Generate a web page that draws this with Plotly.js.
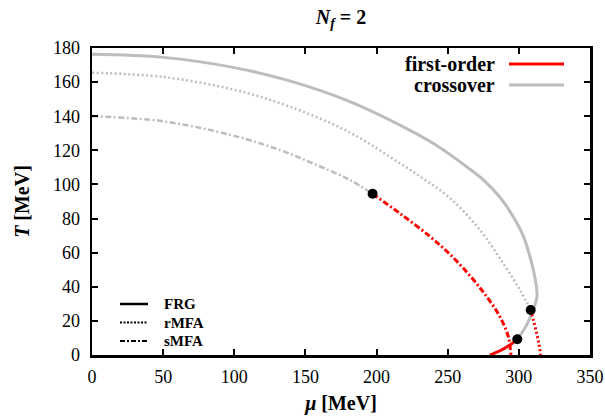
<!DOCTYPE html>
<html>
<head>
<meta charset="utf-8">
<script src="https://cdn.plot.ly/plotly-3.0.1.min.js"></script>
<style>html,body{margin:0;padding:0;background:#fff;}#chart{width:605px;height:418px;}</style>
</head>
<body>
<div id="chart"></div>
<script>
// FRG
const frgCrossMu = [0, 50, 100, 137.7, 180, 216.4, 240, 263.3, 276, 286.7, 295, 303, 307.8, 312, 312.7, 310.1, 305.5, 298.9];
const frgCrossT  = [176.3, 174.5, 168.5, 161, 149, 134.8, 124, 110.4, 102, 92.5, 82.5, 70, 57.6, 42, 34.2, 26.4, 17.6, 9.2];
const frgFirstMu = [298.9, 293.7, 286.7, 279.7];
const frgFirstT  = [9.2, 5.9, 2.5, 0];
// rMFA
const rmfaCrossMu = [0, 50, 100, 137.7, 180, 216.4, 232.6, 251.6, 272.7, 289, 300.8, 308.3];
const rmfaCrossT  = [165.5, 163, 155.5, 146, 131, 112.4, 103.5, 92, 73.3, 53.7, 38.1, 26.4];
const rmfaFirstMu = [308.3, 310.4, 312.4, 314.0, 315.3];
const rmfaFirstT  = [26.4, 20, 13, 7, 0];
// sMFA
const smfaCrossMu = [0, 50, 100, 132, 157.9, 181.3, 197.2];
const smfaCrossT  = [140, 137, 128.5, 120.2, 111.4, 102.6, 94.5];
const smfaFirstMu = [197.2, 216.4, 237.5, 251.6, 265.6, 277.4, 286.7, 292.6, 294.4];
const smfaFirstT  = [94.5, 83, 69.5, 59, 46.5, 34.2, 22.4, 10.7, 0];
// critical end points
const cepMu = [197.2, 308.3, 298.9];
const cepT  = [94.5, 26.4, 9.2];

const xTicks = [0, 50, 100, 150, 200, 250, 300, 350];
const yTicks = [0, 20, 40, 60, 80, 100, 120, 140, 160, 180];

const GRAY = '#bdbdbd', RED = '#ff0000';
const DASHDOT = '6px,2.5px,2px,2.5px';

function line(x, y, color, dash, width) {
  return {x: x, y: y, mode: 'lines', type: 'scatter', showlegend: false, hoverinfo: 'skip',
          line: {color: color, dash: dash, width: width, shape: 'spline', smoothing: 1}};
}

const traces = [
  line(frgCrossMu, frgCrossT, GRAY, 'solid', 3),
  line(rmfaCrossMu, rmfaCrossT, GRAY, '2px,2.5px', 2.5),
  line(smfaCrossMu, smfaCrossT, GRAY, DASHDOT, 2.5),
  line(frgFirstMu, frgFirstT, RED, 'solid', 3),
  line(rmfaFirstMu, rmfaFirstT, RED, '2px,2.5px', 3),
  line(smfaFirstMu, smfaFirstT, RED, DASHDOT, 3),
  {x: cepMu, y: cepT, mode: 'markers', type: 'scatter', showlegend: false, hoverinfo: 'skip',
   marker: {color: '#000', size: 10}}
];

const FONT = 'Liberation Serif';
const L = 92, R = 590, T = 48, B = 355;
const px = v => (v - L) / (R - L);
const py = v => (B - v) / (B - T);

const shapes = [
  {type: 'line', xref: 'paper', yref: 'paper', x0: px(509), x1: px(564), y0: py(64), y1: py(64), line: {color: RED, width: 3}},
  {type: 'line', xref: 'paper', yref: 'paper', x0: px(509), x1: px(564), y0: py(85), y1: py(85), line: {color: GRAY, width: 3}},
  {type: 'line', xref: 'paper', yref: 'paper', x0: px(120), x1: px(148), y0: py(304), y1: py(304), line: {color: '#000', width: 2.5}},
  {type: 'line', xref: 'paper', yref: 'paper', x0: px(120), x1: px(148), y0: py(322.5), y1: py(322.5), line: {color: '#000', width: 2, dash: '2px,1.5px'}},
  {type: 'line', xref: 'paper', yref: 'paper', x0: px(120), x1: px(148), y0: py(341), y1: py(341), line: {color: '#000', width: 2, dash: '5px,2px,2px,2px'}}
];

function txt(text, x, y, anchor, size) {
  return {text: '<b>' + text + '</b>', xref: 'paper', yref: 'paper', x: px(x), y: py(y),
          xanchor: anchor, yanchor: 'middle', showarrow: false,
          font: {family: FONT, size: size, color: '#000'}};
}
const annotations = [
  txt('first-order', 497, 64, 'right', 20),
  txt('crossover', 497, 85, 'right', 20),
  txt('FRG', 162, 304, 'left', 15),
  txt('rMFA', 162, 322.5, 'left', 15),
  txt('sMFA', 162, 341, 'left', 15)
];

const axisCommon = {
  showline: true, linecolor: '#000', linewidth: 2.5, mirror: 'ticks',
  ticks: 'inside', ticklen: 6, tickwidth: 2, tickcolor: '#000',
  showgrid: false, zeroline: false, fixedrange: true,
  tickfont: {family: FONT, size: 18, color: '#000'}
};

const layout = {
  width: 605, height: 418,
  margin: {l: L, r: 605 - R, t: T, b: 418 - B},
  paper_bgcolor: '#fff', plot_bgcolor: '#fff',
  font: {family: FONT, color: '#000'},
  title: {text: '<b><i>N</i><sub><i>f</i></sub> = 2</b>', font: {family: FONT, size: 20, color: '#000'},
          x: px(341), xref: 'paper', xanchor: 'center', y: 1 - 17 / 418, yanchor: 'middle'},
  xaxis: Object.assign({}, axisCommon, {range: [0, 350], tickvals: xTicks, ticktext: xTicks.map(String),
    ticklabelstandoff: 4,
    title: {text: '<b><i>μ</i> [MeV]</b>', font: {family: FONT, size: 20, color: '#000'}, standoff: 10}}),
  yaxis: Object.assign({}, axisCommon, {range: [0, 180], tickvals: yTicks, ticktext: yTicks.map(String),
    ticklabelstandoff: 6,
    title: {text: '<b><i>T</i> [MeV]</b>', font: {family: FONT, size: 20, color: '#000'}, standoff: 18}}),
  shapes: shapes,
  annotations: annotations,
  showlegend: false
};

Plotly.newPlot('chart', traces, layout, {displayModeBar: false, staticPlot: true});
</script>
</body>
</html>
